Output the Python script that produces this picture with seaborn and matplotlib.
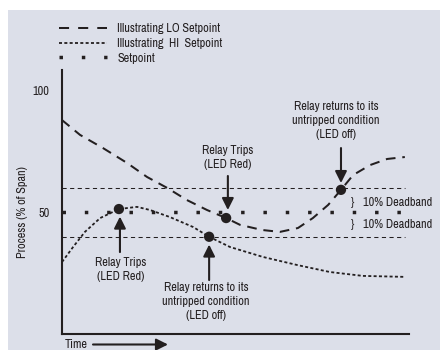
import matplotlib
matplotlib.use("Agg")
import matplotlib.pyplot as plt
from matplotlib.patches import Rectangle
from matplotlib.lines import Line2D
from matplotlib import font_manager as fm
import seaborn as sns

# ---------------- data ----------------
lo_time = [0, 5.2, 11.8, 18.7, 24.5, 30.3, 36, 41.8, 47.3, 51.3, 57.6, 62.8,
           68, 72.3, 76.7, 80.4, 83.9, 88.8, 93.7, 98.8]
lo_value = [88, 81.9, 76.5, 70.4, 64.6, 60.1, 55.1, 51, 47.7, 44.9, 42.8, 42,
            43.6, 47.7, 53.1, 59.3, 65.4, 69.5, 72, 72.8]
hi_time = [0, 3.2, 6.6, 11, 16.4, 21.6, 25.4, 31.1, 37.8, 42.4, 48.4, 57.9,
           67.7, 77.2, 86.7, 98.8]
hi_value = [29.6, 35.8, 42, 47.7, 51.4, 52.3, 51, 48.1, 44, 40, 35.8, 31.7,
            28.4, 25.5, 23.9, 23.5]
time_span = [0, 98.8]
setpoint = 50
deadband_upper = 60
deadband_lower = 40
event_time = [16.4, 42.4, 47.3, 80.4]
event_value = [51.4, 40, 47.7, 59.3]
ytick_values = [10, 20, 30, 40, 50, 60, 70, 80, 90, 100]
ytick_labels = ["", "", "", "", "50", "", "", "", "", "100"]
legend_labels = ["Illustrating LO Setpoint", "Illustrating  HI  Setpoint", "Setpoint"]

# ---------------- font choice (prefer a narrow grotesque sans) ----------------
def pick_font():
    names = {f.name for f in fm.fontManager.ttflist}
    for pref in ["Liberation Sans Narrow", "Arial Narrow", "Archivo Narrow",
                 "Roboto Condensed", "Asap Condensed", "Barlow Semi Condensed",
                 "Open Sans Condensed", "Noto Sans Condensed"]:
        if pref in names:
            return pref
    return "Liberation Sans"

FAM = pick_font()
sns.set_style("white")
plt.rcParams["font.family"] = [FAM, "DejaVu Sans"]
ink = "#231f20"
bg = "#dcdfe9"

W, H = 440, 350
fig = plt.figure(figsize=(W / 100, H / 100), dpi=100)
renderer = fig.canvas.get_renderer()

# measure the font so text widths match the reference
_t = fig.text(0, 0, "Illustrating LO Setpoint", fontsize=9)
w9 = _t.get_window_extent(renderer).width
_t.remove()
FS = min(10.5, 9 * 103.0 / w9)
fs_px = FS / 0.72

def step_px(ls):
    a = fig.text(0, 0.5, "Ag", fontsize=FS, linespacing=ls)
    b = fig.text(0, 0.5, "Ag\nAg\nAg", fontsize=FS, linespacing=ls)
    d = (b.get_window_extent(renderer).height - a.get_window_extent(renderer).height) / 2
    a.remove(); b.remove()
    return d

s1, s2 = step_px(1.0), step_px(2.0)
LS = 1.0 + (14.0 - s1) / max(s2 - s1, 1e-6)

_t = fig.text(0, 0, "Illustrating LO Setpoint", fontsize=FS)
h_lab = _t.get_window_extent(renderer).height
_t.remove()

fig.patch.set_facecolor("white")
fig.add_artist(Rectangle((8 / W, 0), 1, 1 - 10 / H, transform=fig.transFigure,
                         facecolor=bg, edgecolor="none", zorder=0))

ax = fig.add_axes([62 / W, 16 / H, (409 - 62) / W, (334 - 70) / H])
ax.set_facecolor("none")
ax.set_xlim(0, 100)
ax.set_ylim(0, 108.6)

# deadband lines
for v in (deadband_upper, deadband_lower):
    sns.lineplot(x=time_span, y=[v, v], ax=ax, color=ink, linewidth=0.75,
                 linestyle=(0, (4, 3.3)))
# setpoint squares
sns.lineplot(x=time_span, y=[setpoint, setpoint], ax=ax, color=ink, linewidth=2.5,
             linestyle=(0, (1, 5.43)))
# LO curve
sns.lineplot(x=lo_time, y=lo_value, ax=ax, color=ink, linewidth=1.45,
             linestyle=(0, (4.8, 3.4)), sort=False)
# HI curve
sns.lineplot(x=hi_time, y=hi_value, ax=ax, color=ink, linewidth=1.3,
             linestyle=(0, (1.67, 1.28)), sort=False)
# event markers
sns.scatterplot(x=event_time, y=event_value, ax=ax, s=55, color=ink,
                edgecolor="none", zorder=5)

# axes styling
for s in ("top", "right"):
    ax.spines[s].set_visible(False)
for s in ("left", "bottom"):
    ax.spines[s].set_color(ink)
    ax.spines[s].set_linewidth(1.5)
ax.set_xticks([])
ax.set_yticks(ytick_values)
ax.set_yticklabels(ytick_labels)
ax.tick_params(axis="y", direction="inout", length=13.7, width=1.1, pad=2,
               labelsize=FS, colors=ink)

fig.text(22 / W, 1 - 212 / H, "Process (% of Span)", rotation=90, ha="center",
         va="center", fontsize=FS, color=ink)
fig.text(65 / W, 1.5 / H, "Time", ha="left", va="baseline", fontsize=FS, color=ink)

arrow = dict(arrowstyle="-|>,head_length=0.5,head_width=0.25", mutation_scale=14,
             lw=1.5, color=ink, shrinkA=0, shrinkB=0)
ax.annotate("", xy=(168, 5.5), xytext=(93, 5.5), xycoords="figure pixels",
            textcoords="figure pixels", arrowprops=arrow)

# annotations
txt = dict(ha="center", va="center", fontsize=FS, color=ink, linespacing=LS,
           multialignment="center")
ax.text(79.0, 87.7, "Relay returns to its\nuntripped condition\n(LED off)", **txt)
ax.annotate("", xy=(80.4, 62.1), xytext=(80.4, 76.5), arrowprops=arrow)
ax.text(47.8, 72.8, "Relay Trips\n(LED Red)", **txt)
ax.annotate("", xy=(47.8, 51.0), xytext=(47.8, 65.0), arrowprops=arrow)
ax.text(17.0, 26.7, "Relay Trips\n(LED Red)", **txt)
ax.annotate("", xy=(16.7, 48.3), xytext=(16.7, 33.7), arrowprops=arrow)
ax.text(41.5, 13.2, "Relay returns to its\nuntripped condition\n(LED off)", **txt)
ax.annotate("", xy=(42.4, 36.8), xytext=(42.4, 22.2), arrowprops=arrow)

for yv in (54.3, 44.9):
    ax.text(83.6, yv, "}", ha="center", va="center", fontsize=FS, color=ink)
    ax.text(86.7, yv, "10% Deadband", ha="left", va="center", fontsize=FS, color=ink)

# legend
handles = [
    Line2D([], [], color=ink, linewidth=1.45, linestyle=(0, (5, 4.5))),
    Line2D([], [], color=ink, linewidth=1.3, linestyle=(0, (1.67, 1.28))),
    Line2D([], [], color=ink, linewidth=2.5, linestyle=(0, (1, 5.43))),
]
lab_sp = max(0.0, (14.5 - h_lab) / fs_px)
fig.legend(handles, legend_labels, loc="upper left",
           bbox_to_anchor=(59 / W, 1 - (29 - h_lab / 2) / H), frameon=False,
           fontsize=FS, handlelength=48 / fs_px, handletextpad=10 / fs_px,
           labelspacing=lab_sp, borderpad=0, borderaxespad=0, labelcolor=ink)

fig.savefig("out.png", dpi=100, facecolor="white")
